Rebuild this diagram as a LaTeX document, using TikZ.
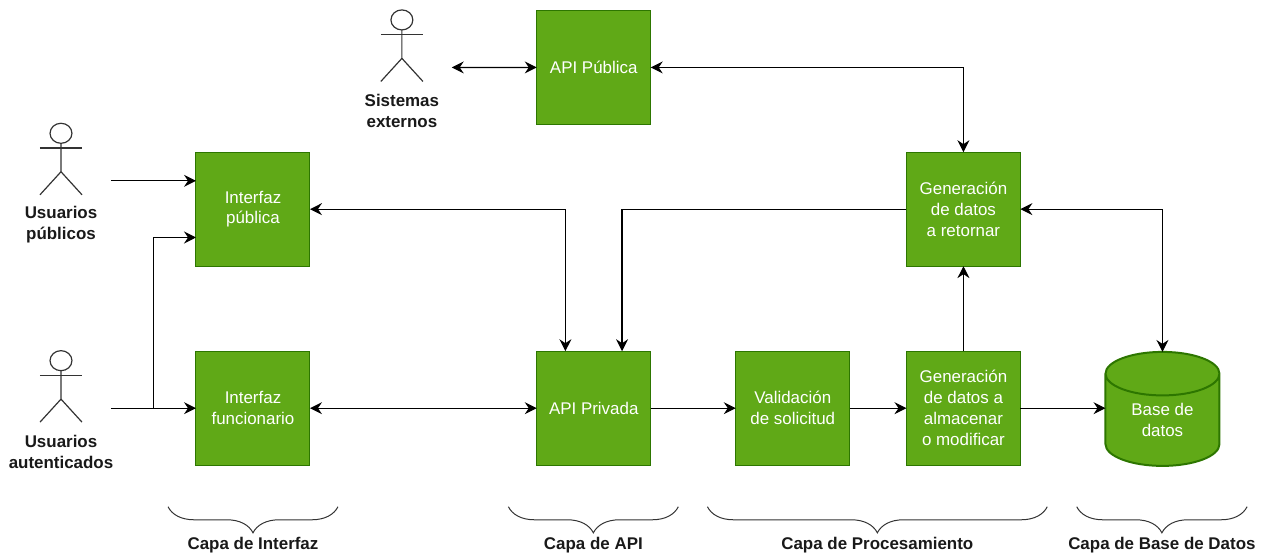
\documentclass[tikz,border=0pt]{standalone}
\usepackage{fontspec}
\setmainfont{Liberation Sans}
\usetikzlibrary{positioning,arrows.meta,shapes.geometric,decorations.pathreplacing}
\definecolor{capagreen}{HTML}{60A917}
\definecolor{capaborder}{HTML}{2D7600}
\definecolor{capagray}{HTML}{333333}
\begin{document}
\begin{tikzpicture}

	\tikzstyle{every node}=[font=\fontsize{12.75}{15.75}\selectfont]
	\tikzstyle{capabox}=[rectangle,draw=capaborder,fill=capagreen,text=white,line width=0.75pt,minimum width=3.016cm,minimum height=3.016cm,align=center,inner sep=0pt,outer sep=0pt]
	\tikzstyle{capadb}=[cylinder,shape border rotate=90,aspect=0.7,draw=capaborder,fill=capagreen,text=white,line width=1.5pt,minimum width=3.016cm,minimum height=3.016cm,align=center,inner sep=0pt,outer sep=0pt]
	\tikzstyle{link}=[line width=0.9pt,black]
	\tikzstyle{oneway}=[link,-{Stealth[length=9pt,width=9pt,inset=3pt]}]
	\tikzstyle{twoway}=[link,{Stealth[length=9pt,width=9pt,inset=3pt]}-{Stealth[length=9pt,width=9pt,inset=3pt]}]
	\tikzstyle{actorlabel}=[font=\fontsize{12.75}{15.75}\selectfont\bfseries,text=black!90,align=center,inner sep=0pt]
	\tikzstyle{capabrace}=[capagray,line width=0.75pt,decorate,decoration={brace,mirror,amplitude=0.69cm}]
	\tikzset{
		actor/.pic={
			\draw[capagray,line width=0.9pt] (0,1.257) ellipse (0.29 and 0.265);
			\draw[capagray,line width=0.9pt] (0,0.99) -- (0,0.24) -- (-0.556,-0.37);
			\draw[capagray,line width=0.9pt] (0,0.24) -- (0.556,-0.37);
			\draw[capagray,line width=0.9pt] (-0.556,0.87) -- (0.556,0.87);
			\node[actorlabel] (-label) at (0,-1.16) {#1};
			\coordinate (-out) at (1.32,0);
		}
	}

	\useasboundingbox (-6.694,-3.856) rectangle (26.83,10.80);

	\node[capabox] (funcionario) at (0,0) {Interfaz\\funcionario};
	\node[capabox, above= 2.25cm of funcionario] (publica) {Interfaz\\pública};
	\node[capabox, right= 6cm of funcionario] (apiprivada) {API Privada};
	\node[capabox, above= 6cm of apiprivada] (apipublica) {API Pública};
	\node[capabox, right= 2.25cm of apiprivada] (validacion) {Validación\\de solicitud};
	\node[capabox, right= 1.5cm of validacion] (genmodificar) {Generación\\de datos a\\almacenar\\o modificar};
	\node[capabox, above= 2.25cm of genmodificar] (genretornar) {Generación\\de datos\\a retornar};
	\node[capadb, right= 2.25cm of genmodificar, yshift=-0.32cm] (basedatos) {Base de\\datos};

	\pic (usrpublicos) at (-5.08,6.016) {actor={Usuarios\\públicos}};
	\pic (usrautenticados) at (-5.08,0) {actor={Usuarios\\autenticados}};
	\pic (sistemas) at (3.94,9.016) {actor={Sistemas\\externos}};

	\coordinate[left= 1.125cm of funcionario.west] (branch);

	\draw[oneway] (usrpublicos-out) -- (usrpublicos-out -| publica.west);
	\draw[oneway] (usrautenticados-out) -- (funcionario.west);
	\draw[oneway] (branch) |- ([yshift=-0.75cm]publica.west);
	\draw[twoway] (sistemas-out) -- (apipublica.west);
	\draw[twoway] (funcionario.east) -- (apiprivada.west);
	\draw[twoway] (publica.east) -| ([xshift=-0.75cm]apiprivada.north);
	\draw[oneway] (genretornar.west) -| ([xshift=0.75cm]apiprivada.north);
	\draw[twoway] (apipublica.east) -| (genretornar.north);
	\draw[oneway] (apiprivada.east) -- (validacion.west);
	\draw[oneway] (validacion.east) -- (genmodificar.west);
	\draw[oneway] (genmodificar.north) -- (genretornar.south);
	\draw[oneway] (genmodificar.east) -- (genmodificar.east -| basedatos.west);
	\draw[twoway] (genretornar.east) -| (basedatos.north);

	\draw[capabrace] ([shift={(-0.74,-1.1)}]funcionario.south west) -- ([shift={(0.74,-1.1)}]funcionario.south east) node[midway,actorlabel,below=0.8cm] (capainterfaz) {Capa de Interfaz};
	\draw[capabrace] ([shift={(-0.75,-1.1)}]apiprivada.south west) -- ([shift={(0.73,-1.1)}]apiprivada.south east) node[midway,actorlabel,below=0.8cm] (capaapi) {Capa de API};
	\draw[capabrace] ([shift={(-0.75,-1.1)}]validacion.south west) -- ([shift={(0.71,-1.1)}]genmodificar.south east) node[midway,actorlabel,below=0.8cm] (capaprocesamiento) {Capa de Procesamiento};
	\draw[capabrace] ([shift={(-0.76,-1.1)}]basedatos.west |- funcionario.south) -- ([shift={(0.73,-1.1)}]basedatos.east |- funcionario.south) node[midway,actorlabel,below=0.8cm] (capabase) {Capa de Base de Datos};

\end{tikzpicture}
\end{document}
